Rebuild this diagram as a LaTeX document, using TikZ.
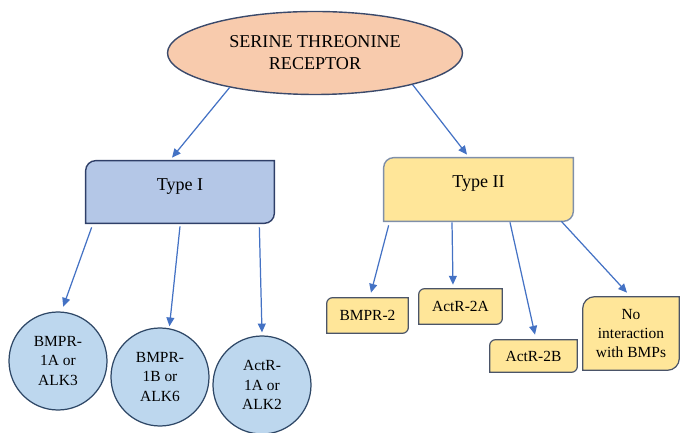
\documentclass[tikz,border=0pt]{standalone}
\usepackage{fontspec}
\setmainfont{Liberation Serif}
\usetikzlibrary{arrows.meta, shapes.geometric, backgrounds}
\definecolor{peach}{HTML}{F8CBAD}
\definecolor{ellline}{HTML}{3B4A6B}
\definecolor{typeone}{HTML}{B4C7E7}
\definecolor{typeoneline}{HTML}{2F3F68}
\definecolor{typetwo}{HTML}{FFE699}
\definecolor{typetwoline}{HTML}{7F8FA9}
\definecolor{circblue}{HTML}{BDD7EE}
\definecolor{circline}{HTML}{2E4766}
\definecolor{subline}{HTML}{4A5468}
\definecolor{arrowblue}{HTML}{4472C4}
% box with rounded top left and bottom right corners, drawn behind node #1
\newcommand\snipbox[3]{%
	\path[#3] ([yshift=-#2]#1.north west) arc[start angle=180, end angle=90, radius=#2]
		-- (#1.north east) -- ([yshift=#2]#1.south east)
		arc[start angle=0, end angle=-90, radius=#2] -- (#1.south west) -- cycle;}

\begin{document}
\begin{tikzpicture}[>={Triangle[length=5pt, width=4.5pt]}, every edge/.style={draw=arrowblue, line width=0.7pt},
	receptor/.style={ellipse, draw=ellline, fill=peach, line width=0.8pt, minimum width=5.9cm, minimum height=1.66cm, inner sep=0pt, align=center, font=\fontsize{10.3}{12.5}\selectfont},
	typebox/.style={minimum width=3.76cm, minimum height=1.24cm, inner sep=0pt, text depth=0.3cm, font=\fontsize{10.3}{12.5}\selectfont},
	member/.style={circle, draw=circline, fill=circblue, line width=0.7pt, minimum size=1.96cm, inner sep=0pt, align=center, font=\fontsize{8.8}{11}\selectfont},
	subbox/.style={inner sep=0pt, align=center, font=\fontsize{8.8}{11}\selectfont}]
	\useasboundingbox (0,0) rectangle (13.62,8.66);

	\node[receptor] (recep) at (6.30,7.60) {SERINE THREONINE\\RECEPTOR};
	\node[typebox] (type1) at (3.60,4.82) {Type I};
	\node[typebox, minimum width=3.78cm, minimum height=1.26cm] (type2) at (9.57,4.87) {Type II};

	\node[member] (bmpr1a) at (1.16,1.44) {BMPR-\\1A or\\ALK3};
	\node[member] (bmpr1b) at (3.20,1.12) {BMPR-\\1B or\\ALK6};
	\node[member] (actr1a) at (5.24,0.96) {ActR-\\1A or\\ALK2};

	\node[subbox, minimum width=1.62cm, minimum height=0.70cm] (bmpr2) at (7.35,2.35) {BMPR-2};
	\node[subbox, minimum width=1.66cm, minimum height=0.70cm] (actr2a) at (9.21,2.53) {ActR-2A};
	\node[subbox, minimum width=1.74cm, minimum height=0.64cm] (actr2b) at (10.67,1.54) {ActR-2B};
	\node[subbox, minimum width=1.92cm, minimum height=1.46cm] (noint) at (12.62,1.99) {No\\interaction\\with BMPs};

	\begin{pgfonlayer}{background}
		\snipbox{type1}{0.2cm}{draw=typeoneline, fill=typeone, line width=0.8pt}
		\snipbox{type2}{0.2cm}{draw=typetwoline, fill=typetwo, line width=0.8pt}
		\snipbox{bmpr2}{0.12cm}{draw=subline, fill=typetwo, line width=0.7pt}
		\snipbox{actr2a}{0.12cm}{draw=subline, fill=typetwo, line width=0.7pt}
		\snipbox{actr2b}{0.12cm}{draw=subline, fill=typetwo, line width=0.7pt}
		\snipbox{noint}{0.24cm}{draw=subline, fill=typetwo, line width=0.7pt}
	\end{pgfonlayer}

	\path[->] (recep.202) edge ([shift={(-0.16,0.06)}]type1.north)
	         (recep.342) edge ([shift={(-0.23,0.06)}]type2.north)
	         ([shift={(0.12,-0.08)}]type1.south west) edge ([yshift=0.1cm]bmpr1a.84)
	         ([yshift=-0.06cm]type1.south) edge ([yshift=0.04cm]bmpr1b.79)
	         ([shift={(-0.30,-0.08)}]type1.south east) edge ([yshift=0.06cm]actr1a.north)
	         ([shift={(0.1,-0.08)}]type2.south west) edge ([shift={(0.07,0.1)}]bmpr2.north)
	         ([shift={(-0.53,-0.02)}]type2.south) edge ([shift={(-0.15,0.08)}]actr2a.north)
	         ([shift={(0.63,-0.02)}]type2.south) edge ([shift={(0.03,0.1)}]actr2b.north)
	         ([shift={(-0.24,0)}]type2.south east) edge ([shift={(-0.08,0.08)}]noint.north);
\end{tikzpicture}
\end{document}
